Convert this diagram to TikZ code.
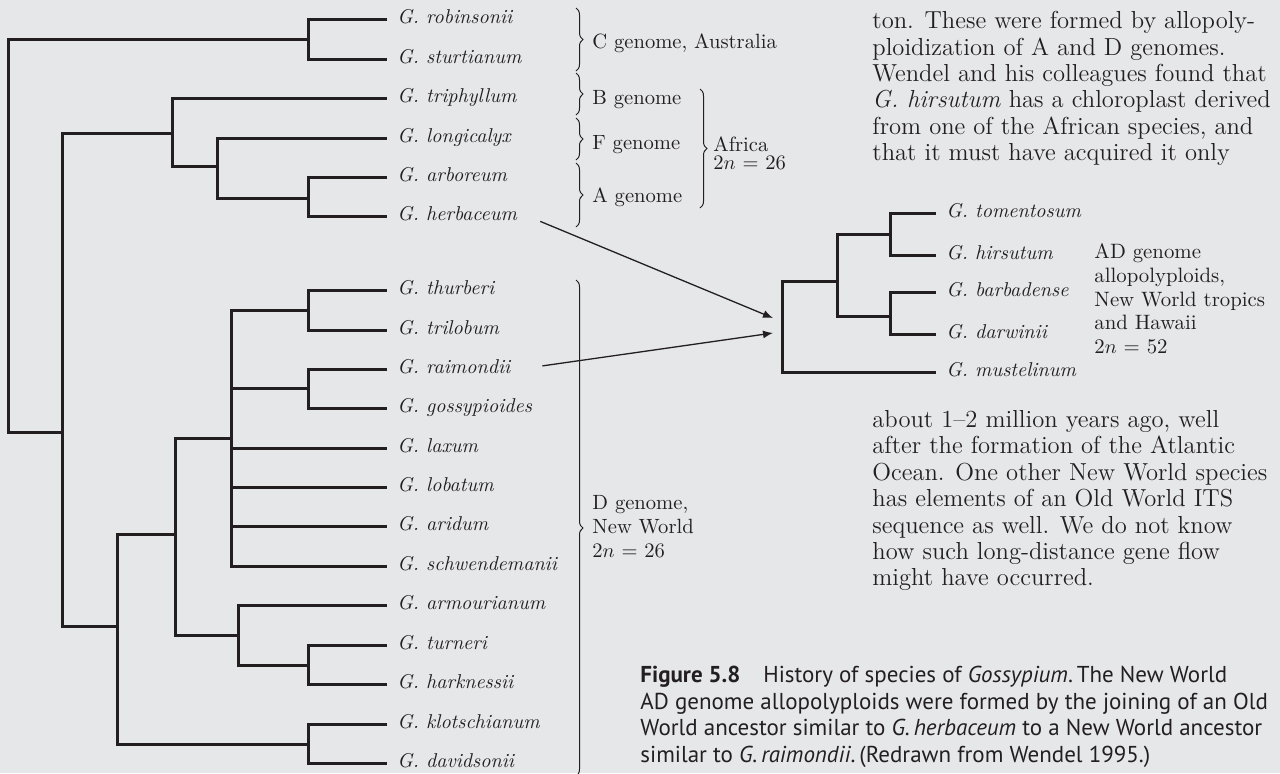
\documentclass[tikz,border=0pt]{standalone}
\usepackage{fontspec}
\newfontfamily\capfont{PT Sans}
\usetikzlibrary{arrows.meta,decorations.pathreplacing}
\definecolor{paper}{RGB}{230,231,233}
\definecolor{ink}{RGB}{35,31,32}

\begin{document}
\begin{tikzpicture}[x=0.5pt,y=-0.5pt,
  branch/.style={draw=ink,line width=1.5pt},
  taxon/.style={anchor=mid west,inner sep=5pt,text=ink,font=\fontsize{10}{12}\selectfont\itshape},
  genome/.style={anchor=west,inner sep=0pt,align=left,text=ink,font=\fontsize{10.3}{12}\selectfont},
  gbrace/.style={draw=ink,line width=0.5pt,decorate,decoration={brace,amplitude=3.5pt}},
  flow/.style={draw=ink,line width=0.65pt,-{Latex[length=5pt,width=4pt]}},
  body/.style={anchor=north west,inner sep=0pt,align=left,text=ink,font=\fontsize{12.3}{13.2}\selectfont},
  legend/.style={anchor=north west,inner sep=0pt,align=left,text=ink,font=\capfont\fontsize{11.5}{13.25}\selectfont}]

\fill[paper] (0,0) rectangle (1280,773);
\useasboundingbox (0,0) rectangle (1280,773);

% taxa of the big tree
\foreach \nm/\yy in {robinsonii/19.5,sturtianum/59,triphyllum/98,longicalyx/138,
  arboreum/177,herbaceum/216,thurberi/290,trilobum/330,raimondii/369,
  gossypioides/408,laxum/448,lobatum/487,aridum/526,schwendemanii/566,
  armourianum/605,turneri/645,harknessii/684,klotschianum/724,davidsonii/763}
  \node[taxon] (\nm) at (387,\yy) {G. \nm};

% taxa of the AD tree
\foreach \nm/\yy in {tomentosum/213,hirsutum/255,barbadense/292,darwinii/334,mustelinum/372}
  \node[taxon] (\nm) at (936,\yy) {G. \nm};

\coordinate (root) at (8,236);
\coordinate (nC) at (308,39.5);
\coordinate (nAfD) at (62,432);
\coordinate (nAfr) at (172,133);
\coordinate (nFA) at (217,166);
\coordinate (nA) at (308,198);
\coordinate (nD) at (117,626);
\coordinate (nD1) at (175,534);
\coordinate (nD2) at (231,438);
\coordinate (nTT) at (308,310);
\coordinate (nRG) at (308,388.5);
\coordinate (nAT) at (238,635);
\coordinate (nTH) at (308,665);
\coordinate (nKD) at (308,744);

\draw[branch] (robinsonii.mid west) -| (nC) |- (sturtianum.mid west);
\draw[branch] (nC) -| (root) |- (nAfD);
\draw[branch] (nAfr) -| (nAfD) |- (nD);
\draw[branch] (triphyllum.mid west) -| (nAfr) |- (nFA);
\draw[branch] (longicalyx.mid west) -| (nFA) |- (nA);
\draw[branch] (arboreum.mid west) -| (nA) |- (herbaceum.mid west);

\draw[branch] (nD1) -| (nD) |- (nKD);
\draw[branch] (nD2) -| (nD1) |- (nAT);
\draw[branch] (nTT) -| (nD2) |- (schwendemanii.mid west);
\draw[branch] (nD2 |- nRG) -- (nRG);
\draw[branch] (nD2 |- laxum.mid west) -- (laxum.mid west);
\draw[branch] (nD2 |- lobatum.mid west) -- (lobatum.mid west);
\draw[branch] (nD2 |- aridum.mid west) -- (aridum.mid west);
\draw[branch] (thurberi.mid west) -| (nTT) |- (trilobum.mid west);
\draw[branch] (raimondii.mid west) -| (nRG) |- (gossypioides.mid west);
\draw[branch] (armourianum.mid west) -| (nAT) |- (nTH);
\draw[branch] (turneri.mid west) -| (nTH) |- (harknessii.mid west);
\draw[branch] (klotschianum.mid west) -| (nKD) |- (davidsonii.mid west);

% AD allopolyploids
\coordinate (nAD) at (782,326);
\coordinate (nTB) at (837,281);
\coordinate (nTHi) at (890,234);
\coordinate (nBD) at (890,316);

\draw[branch] (nTB) -| (nAD) |- (mustelinum.mid west);
\draw[branch] (nTHi) -| (nTB) |- (nBD);
\draw[branch] (tomentosum.mid west) -| (nTHi) |- (hirsutum.mid west);
\draw[branch] (barbadense.mid west) -| (nBD) |- (darwinii.mid west);

\coordinate (inA) at (773,318);
\coordinate (inD) at (773,333);
\draw[flow,shorten <=7pt] (herbaceum.mid east) -- (inA);
\draw[flow,shorten <=11pt] (raimondii.mid east) -- (inD);

% genome groups
\draw[gbrace] (576,8) -- (576,71);
\draw[gbrace] (576,73) -- (576,115);
\draw[gbrace] (576,118) -- (576,160);
\draw[gbrace] (576,163) -- (576,227);
\draw[gbrace] (700,89) -- (700,208);
\draw[gbrace] (576,280) -- (576,776);

\node[genome] (cgen) at (592,43) {C genome, Australia};
\node[genome] (bgen) at (592,100) {B genome};
\node[genome] (fgen) at (592,145) {F genome};
\node[genome] (agen) at (592,197) {A genome};
\node[genome,font=\fontsize{10.3}{9}\selectfont] (afr) at (713,153) {Africa\\2$n$ = 26};
\node[genome] (dgen) at (592,527) {D genome,\\New World\\2$n$ = 26};
\node[genome,font=\fontsize{10.4}{11.85}\selectfont] (adgen) at (1094,299)
  {AD genome\\allopolyploids,\\New World tropics\\and Hawaii\\2$n$ = 52};

% running text
\node[body] (txtA) at (872,11) {ton. These were formed by allopoly-\\
  ploidization of A and D genomes.\\
  Wendel and his colleagues found that\\
  \textit{G. hirsutum} has a chloroplast derived\\
  from one of the African species, and\\
  that it must have acquired it only};
\node[body] (txtB) at (872,410) {about 1--2 million years ago, well\\
  after the formation of the Atlantic\\
  Ocean. One other New World species\\
  has elements of an Old World ITS\\
  sequence as well. We do not know\\
  how such long-distance gene flow\\
  might have occurred.};

\node[legend] (cap) at (640,666) {\textbf{Figure 5.8}\quad History of species of \textit{Gossypium}.\,The New World\\
  AD genome allopolyploids were formed by the joining of an Old\\
  World ancestor similar to \textit{G.\,herbaceum} to a New World ancestor\\
  similar to \textit{G.\,raimondii}.\,(Redrawn from Wendel 1995.)};

\end{tikzpicture}
\end{document}
